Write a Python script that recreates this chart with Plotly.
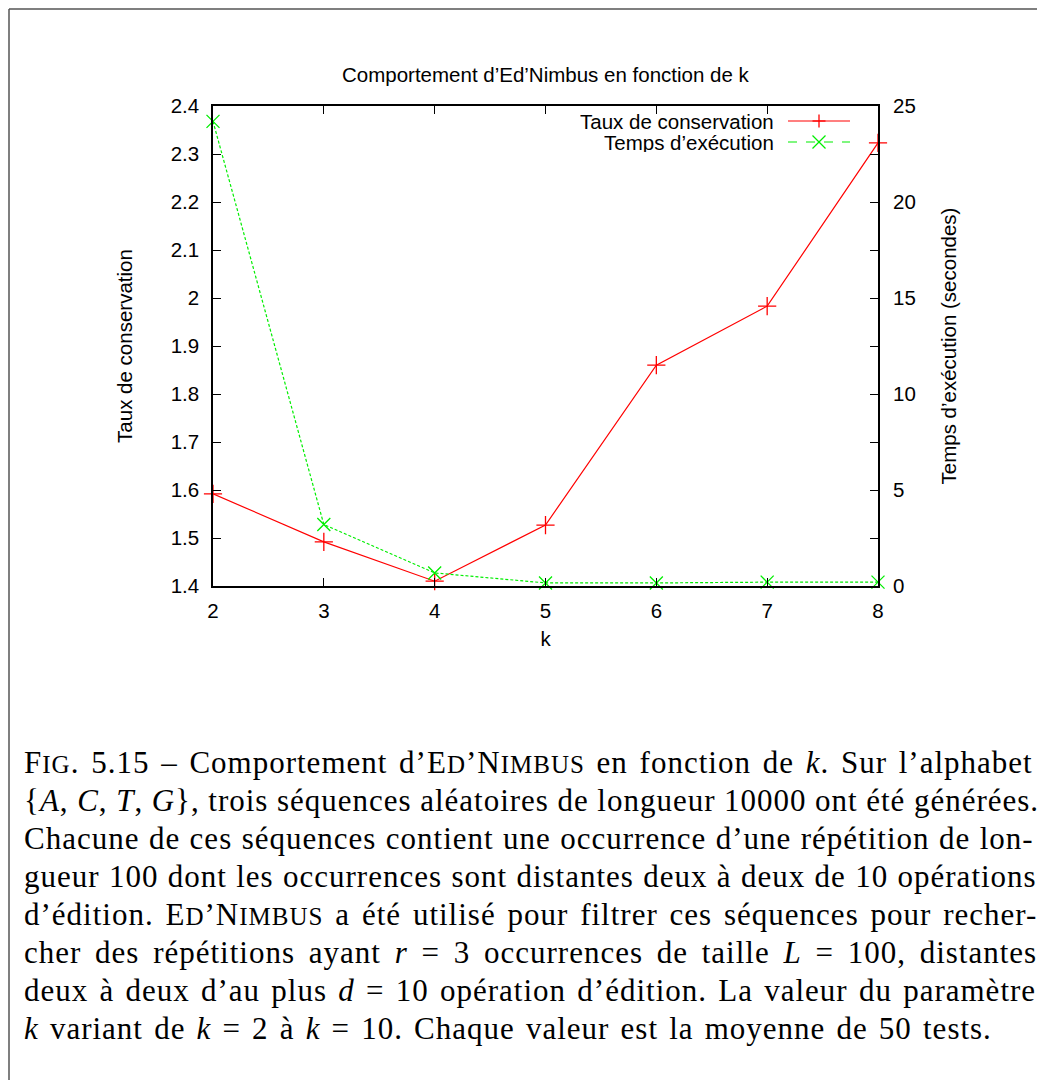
import plotly.graph_objects as go

# ---- data ----
k_values = [2, 3, 4, 5, 6, 7, 8]
taux_conservation = [1.592, 1.492, 1.410, 1.527, 1.860, 1.983, 2.323]
temps_execution = [24.2, 3.2, 0.68, 0.16, 0.16, 0.2, 0.2]

title_text = "Comportement d’Ed’Nimbus en fonction de k"
series_names = ["Taux de conservation", "Temps d’exécution"]
x_title = "k"
y_title = "Taux de conservation"
y2_title = "Temps d’exécution (secondes)"

# caption segments: (text, style) with style "" normal, "sc" small caps, "i" italic
caption_lines = [
    [("F", ""), ("IG", "sc"), (". 5.15 – Comportement d’E", ""), ("D", "sc"), ("’N", ""), ("IMBUS", "sc"),
     (" en fonction de ", ""), ("k", "i"), (". Sur l’alphabet", "")],
    [("{", ""), ("A", "i"), (", ", ""), ("C", "i"), (", ", ""), ("T", "i"), (", ", ""), ("G", "i"),
     ("}, trois séquences aléatoires de longueur 10000 ont été générées.", "")],
    [("Chacune de ces séquences contient une occurrence d’une répétition de lon-", "")],
    [("gueur 100 dont les occurrences sont distantes deux à deux de 10 opérations", "")],
    [("d’édition. E", ""), ("D", "sc"), ("’N", ""), ("IMBUS", "sc"),
     (" a été utilisé pour filtrer ces séquences pour recher-", "")],
    [("cher des répétitions ayant ", ""), ("r", "i"), (" = 3 occurrences de taille ", ""), ("L", "i"),
     (" = 100, distantes", "")],
    [("deux à deux d’au plus ", ""), ("d", "i"), (" = 10 opération d’édition. La valeur du paramètre", "")],
    [("k", "i"), (" variant de ", ""), ("k", "i"), (" = 2 à ", ""), ("k", "i"),
     (" = 10. Chaque valeur est la moyenne de 50 tests.", "")],
]
caption_word_spacing = [3.0, -0.2, 0.7, 0.6, 3.1, 5.0, 2.5, 2.4]

# ---- layout geometry (page pixels; the page body has an 8px margin) ----
OFF = 8
W, H = 1045 - OFF, 1088 - 2 * OFF
L, R, T, B = 213, 878, 106, 586


def px(x):
    return (x - L) / (R - L)


def py(y):
    return (B - y) / (B - T)


SANS = "Liberation Sans, Arial, sans-serif"
SERIF = "Liberation Serif, Times New Roman, serif"
RED = "#ff0000"
GREEN = "#00ee00"
CAP_SIZE = 31
SC_SIZE = 25
FS = 20.5

fig = go.Figure()
fig.add_trace(go.Scatter(
    x=k_values, y=taux_conservation, name=series_names[0], mode="lines+markers",
    line=dict(color=RED, width=1.2),
    marker=dict(symbol="cross-thin", size=13, line=dict(color=RED, width=1.3)),
    yaxis="y", showlegend=False, cliponaxis=False,
))
fig.add_trace(go.Scatter(
    x=k_values, y=temps_execution, name=series_names[1], mode="lines+markers",
    line=dict(color=GREEN, width=1.2, dash="3px,2px"),
    marker=dict(symbol="x-thin", size=13, line=dict(color=GREEN, width=1.3)),
    yaxis="y2", showlegend=False, cliponaxis=False,
))

tick_font = dict(family=SANS, size=FS, color="black")

fig.update_layout(
    width=W, height=H,
    margin=dict(l=L - OFF, r=W + OFF - R, t=T - OFF, b=H + OFF - B, pad=0),
    paper_bgcolor="white", plot_bgcolor="white",
    xaxis=dict(
        range=[2, 8], tickmode="linear", tick0=2, dtick=1,
        ticks="inside", ticklen=8, tickwidth=1.2, tickcolor="black",
        showline=True, linecolor="black", linewidth=1.5, mirror="ticks",
        showgrid=False, zeroline=False, tickfont=tick_font,
        ticklabelstandoff=6,
        title=dict(text=x_title, font=tick_font, standoff=10),
    ),
    yaxis=dict(
        range=[1.4, 2.4], tickmode="linear", tick0=1.4, dtick=0.1,
        ticks="inside", ticklen=8, tickwidth=1.2, tickcolor="black",
        showline=True, linecolor="black", linewidth=1.5, mirror="ticks",
        showgrid=False, zeroline=False, tickfont=tick_font,
        tickformat="~g", ticklabelstandoff=8,
        title=dict(text=y_title, font=tick_font, standoff=32),
    ),
    yaxis2=dict(
        range=[0, 25], tickmode="linear", tick0=0, dtick=5,
        overlaying="y", side="right",
        ticks="inside", ticklen=8, tickwidth=1.2, tickcolor="black",
        showline=False, showgrid=False, zeroline=False, tickfont=tick_font,
        ticklabelstandoff=14,
        title=dict(text=y2_title, font=tick_font, standoff=26),
    ),
)

annotations = [
    dict(x=0.5, y=py(75), xref="paper", yref="paper", text=title_text,
         showarrow=False, font=dict(family=SANS, size=FS, color="black"),
         xanchor="center", yanchor="middle"),
]
shapes = []

# manual gnuplot-style legend (text on the left, sample on the right)
legend_rows = [(121, RED, "solid", "plus"), (142, GREEN, "dash", "cross")]
for name, (yy, col, dash, mk) in zip(series_names, legend_rows):
    annotations.append(dict(
        x=px(776), y=py(yy), xref="paper", yref="paper", text=name,
        showarrow=False, font=dict(family=SANS, size=FS, color="black"),
        xanchor="right", yanchor="middle", height=20, valign="middle"))
    shapes.append(dict(type="line", xref="paper", yref="paper",
                       x0=px(788), x1=px(850), y0=py(yy), y1=py(yy),
                       line=dict(color=col, width=1.2, dash=dash)))
    cx, a = 819, 6.5
    if mk == "plus":
        segs = [(cx - a, yy, cx + a, yy), (cx, yy - a, cx, yy + a)]
    else:
        segs = [(cx - a, yy - a, cx + a, yy + a), (cx - a, yy + a, cx + a, yy - a)]
    for x0, y0, x1, y1 in segs:
        shapes.append(dict(type="line", xref="paper", yref="paper",
                           x0=px(x0), x1=px(x1), y0=py(y0), y1=py(y1),
                           line=dict(color=col, width=1.3)))


def styled(segments, ws):
    out = []
    for txt, st in segments:
        css = "letter-spacing:1px;word-spacing:%.1fpx" % ws
        if st == "sc":
            css += ";font-size:%dpx" % SC_SIZE
        elif st == "i":
            css += ";font-style:italic"
        out.append("<span style='%s'>%s</span>" % (css, txt))
    return "".join(out)


for i, (segs, ws) in enumerate(zip(caption_lines, caption_word_spacing)):
    annotations.append(dict(
        x=px(22), y=py(762 + 38.1 * i), xref="paper", yref="paper", text=styled(segs, ws),
        showarrow=False, font=dict(family=SERIF, size=CAP_SIZE, color="black"),
        xanchor="left", yanchor="middle", align="left"))

# page frame
shapes.append(dict(type="line", xref="paper", yref="paper",
                   x0=px(9), x1=px(1050), y0=py(9), y1=py(9),
                   line=dict(color="#555555", width=1.5)))
shapes.append(dict(type="line", xref="paper", yref="paper",
                   x0=px(9), x1=px(9), y0=py(9), y1=py(1095),
                   line=dict(color="#555555", width=1.5)))

fig.update_layout(annotations=annotations, shapes=shapes)
fig.write_html("out.html")
